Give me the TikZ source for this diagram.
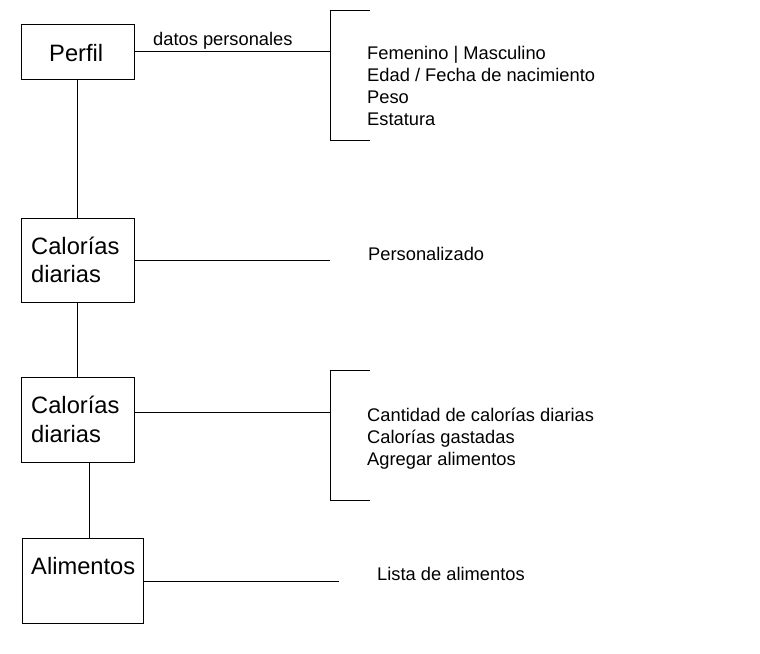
\documentclass[tikz,border=0pt]{standalone}
\usepackage{fontspec}
\setmainfont{Liberation Sans}
\begin{document}
\begin{tikzpicture}[x=1pt,y=-1pt,
  line/.style={line width=0.85pt,black},
  box/.style={draw,line width=0.85pt,rectangle,anchor=north west,inner sep=0pt,outer sep=0pt},
  big/.style={font=\fontsize{23.7}{28.5}\selectfont,anchor=base west,inner sep=0pt,align=left},
  small/.style={font=\fontsize{18.3}{22}\selectfont,anchor=base west,inner sep=0pt,align=left}]
\useasboundingbox[fill=white] (0,0) rectangle (760,653);

% boxes
\node[box,minimum width=113pt,minimum height=55pt] (perfil) at (21,24) {};
\node[box,minimum width=113pt,minimum height=84pt] (cal1) at (21,218) {};
\node[box,minimum width=113pt,minimum height=85pt] (cal2) at (21,377) {};
\node[box,minimum width=121pt,minimum height=85pt] (alim) at (22,538) {};

% box texts
\node[big] (tperfil) at (49,61) {Perfil};
\node[big] (tcal1a) at (31,254) {Calorías};
\node[big] (tcal1b) at (31,282) {diarias};
\node[big] (tcal2a) at (31,413) {Calorías};
\node[big] (tcal2b) at (31,442) {diarias};
\node[big] (talim) at (31,574) {Alimentos};

% side texts
\node[small] (tdatos) at (153,45) {datos personales};
\node[small] (f1) at (367,59) {Femenino | Masculino};
\node[small] (f2) at (367,81) {Edad / Fecha de nacimiento};
\node[small] (f3) at (367,103) {Peso};
\node[small] (f4) at (367,125) {Estatura};
\node[small] (tpers) at (368,260) {Personalizado};
\node[small] (c1) at (367,421) {Cantidad de calorías diarias};
\node[small] (c2) at (367,443) {Calorías gastadas};
\node[small] (c3) at (367,465) {Agregar alimentos};
\node[small] (tlista) at (377,580) {Lista de alimentos};

% brackets
\coordinate (b1t) at (370,10);
\coordinate (b1tl) at (330,10);
\coordinate (b1bl) at (330,140);
\coordinate (b1b) at (370,140);
\coordinate (b1m) at (330,51.5);
\draw[line] (b1t) -- (b1tl) -- (b1bl) -- (b1b);

\coordinate (b2t) at (370,370);
\coordinate (b2tl) at (330,370);
\coordinate (b2bl) at (330,500);
\coordinate (b2b) at (370,500);
\coordinate (b2m) at (330,412);
\draw[line] (b2t) -- (b2tl) -- (b2bl) -- (b2b);

\coordinate (pend) at (330,260);
\coordinate (lend) at (339,581);
\coordinate (vx) at (89,0);

% connectors
\draw[line] (perfil.east) -- (b1m);
\draw[line] (cal1.east) -- (pend);
\draw[line] (cal2.east |- b2m) -- (b2m);
\draw[line] (alim.east |- lend) -- (lend);
\draw[line] (perfil.south) -- (cal1.north);
\draw[line] (cal1.south) -- (cal2.north);
\draw[line] (cal2.south -| vx) -- (alim.north -| vx);
\end{tikzpicture}
\end{document}
